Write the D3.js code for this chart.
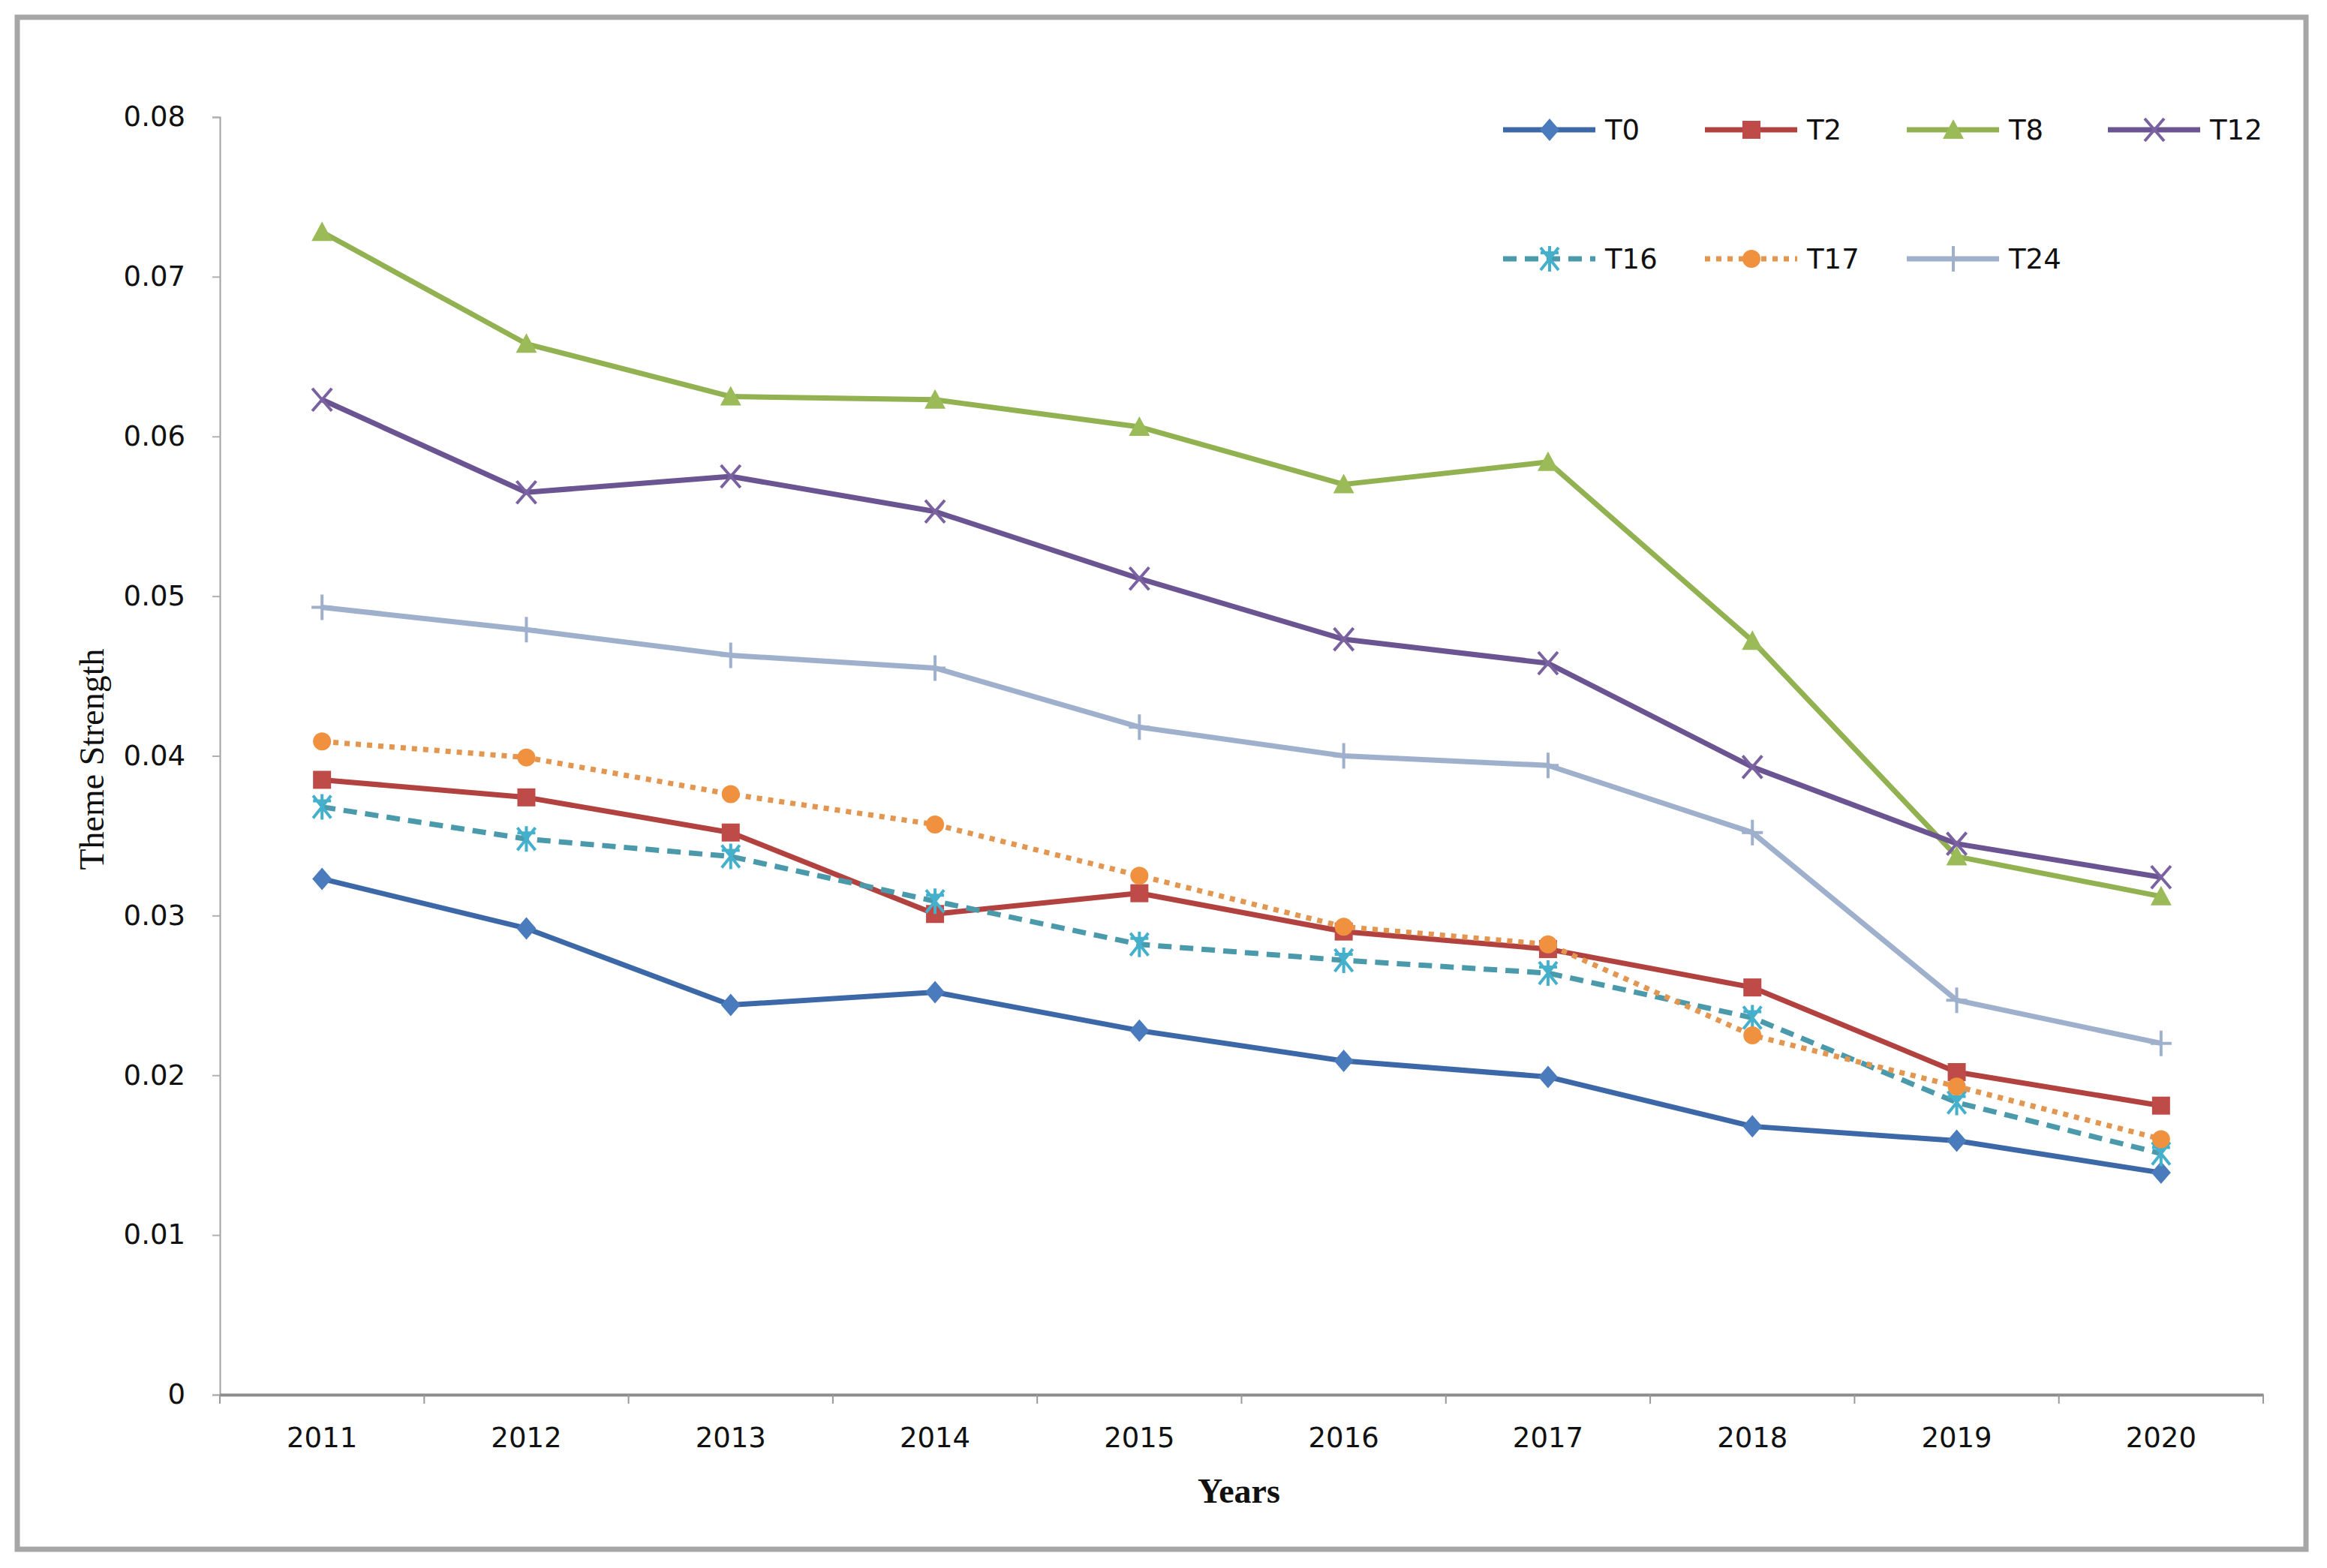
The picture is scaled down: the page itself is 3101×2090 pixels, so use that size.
<!DOCTYPE html>
<html>
<head>
<meta charset="utf-8">
<script src="https://cdnjs.cloudflare.com/ajax/libs/d3/7.8.5/d3.min.js"></script>
<style>
  html, body { margin: 0; padding: 0; background: #fff; }
</style>
</head>
<body>
<div id="viz"></div>
<script>
// data
var years = ['2011', '2012', '2013', '2014', '2015', '2016', '2017', '2018', '2019', '2020'];
var series_names = ['T0', 'T2', 'T8', 'T12', 'T16', 'T17', 'T24'];
var t0  = [0.0323, 0.0292, 0.0244, 0.0252, 0.0228, 0.0209, 0.0199, 0.0168, 0.0159, 0.0139];
var t2  = [0.0385, 0.0374, 0.0352, 0.0301, 0.0314, 0.0290, 0.0279, 0.0255, 0.0202, 0.0181];
var t8  = [0.0728, 0.0658, 0.0625, 0.0623, 0.0606, 0.0570, 0.0584, 0.0472, 0.0337, 0.0312];
var t12 = [0.0623, 0.0565, 0.0575, 0.0553, 0.0511, 0.0473, 0.0458, 0.0393, 0.0345, 0.0324];
var t16 = [0.0368, 0.0348, 0.0337, 0.0309, 0.0282, 0.0272, 0.0264, 0.0236, 0.0183, 0.0151];
var t17 = [0.0409, 0.0399, 0.0376, 0.0357, 0.0325, 0.0293, 0.0282, 0.0225, 0.0193, 0.0160];
var t24 = [0.0493, 0.0479, 0.0463, 0.0455, 0.0418, 0.0400, 0.0394, 0.0352, 0.0247, 0.0220];
var y_ticks = [0, 0.01, 0.02, 0.03, 0.04, 0.05, 0.06, 0.07, 0.08];

var series_values = [t0, t2, t8, t12, t16, t17, t24];

// styles per series
var line_colors   = ['#3d68a8', '#b2423f', '#92b151', '#6a5491', '#4a9aab', '#e39650', '#9fb0cd'];
var marker_colors = ['#4a7bbd', '#be4b48', '#9bbb59', '#7a62a0', '#45b0cc', '#f0913f', '#9fb0cd'];
var dashes = [null, null, null, null, '18,11', '7,8', null];
var shapes = ['diamond', 'square', 'triangle', 'x', 'star', 'circle', 'plus'];

var W = 3101, H = 2090;
var margin = { top: 156, right: 85, bottom: 231, left: 293 };
var width = W - margin.left - margin.right;
var height = H - margin.top - margin.bottom;

var svg = d3.select('#viz').append('svg')
    .attr('width', W)
    .attr('height', H)
    .style('display', 'block');

svg.append('rect')
    .attr('width', W).attr('height', H)
    .attr('fill', '#fff');

// outer frame
svg.append('rect')
    .attr('x', 23).attr('y', 23)
    .attr('width', 3050).attr('height', 2042)
    .attr('fill', 'none')
    .attr('stroke', '#a6a6a6')
    .attr('stroke-width', 7);

var g = svg.append('g')
    .attr('transform', 'translate(' + margin.left + ',' + margin.top + ')');

var x = d3.scaleBand().domain(years).range([0, width]).padding(0);
var y = d3.scaleLinear().domain([0, 0.08]).range([height, 0]);

// y axis
var yAxis = g.append('g')
    .attr('class', 'y-axis')
    .call(d3.axisLeft(y).tickValues(y_ticks).tickSize(10).tickPadding(36)
        .tickFormat(function(d) { return d === 0 ? '0' : d3.format('.2f')(d); }));
yAxis.select('.domain').attr('stroke', '#a0a0a0').attr('stroke-width', 2);
yAxis.selectAll('.tick line').attr('stroke', '#b0b0b0').attr('stroke-width', 2);
yAxis.selectAll('.tick text')
    .style('font-family', '"DejaVu Sans", sans-serif')
    .style('font-size', '37px')
    .attr('fill', '#111');

// x axis, ticks sit between categories
var xAxis = g.append('g')
    .attr('class', 'x-axis')
    .attr('transform', 'translate(0,' + height + ')')
    .call(d3.axisBottom(x).tickSize(0).tickPadding(44));
xAxis.select('.domain').attr('stroke', '#8c8c8c').attr('stroke-width', 4);
xAxis.selectAll('.tick text')
    .style('font-family', '"DejaVu Sans", sans-serif')
    .style('font-size', '37px')
    .attr('fill', '#111');

var bounds = years.map(function(d) { return x(d); }).concat([width]);
xAxis.selectAll('.sep')
    .data(bounds)
    .enter().append('line')
    .attr('class', 'sep')
    .attr('x1', function(d) { return d; })
    .attr('x2', function(d) { return d; })
    .attr('y1', 0).attr('y2', 12)
    .attr('stroke', '#9a9a9a')
    .attr('stroke-width', 2);

// axis titles
svg.append('text')
    .attr('transform', 'translate(138,1012) rotate(-90)')
    .attr('text-anchor', 'middle')
    .style('font-family', '"Liberation Serif", "Times New Roman", serif')
    .style('font-size', '46px')
    .attr('fill', '#111')
    .text('Theme Strength');

svg.append('text')
    .attr('x', 1651).attr('y', 2003)
    .attr('text-anchor', 'middle')
    .style('font-family', '"Liberation Serif", "Times New Roman", serif')
    .style('font-size', '46px')
    .style('font-weight', 'bold')
    .attr('fill', '#111')
    .text('Years');

function marker_path(shape) {
    if (shape === 'diamond') return 'M0,-15L13,0L0,15L-13,0Z';
    if (shape === 'square') return 'M-12,-12H12V12H-12Z';
    if (shape === 'triangle') return 'M0,-14L14,12H-14Z';
    if (shape === 'circle') return 'M-12,0A12,12 0 1,0 12,0A12,12 0 1,0 -12,0Z';
    if (shape === 'x') return 'M-13,-15L13,15M13,-15L-13,15';
    if (shape === 'star') return 'M-12,-15L12,15M12,-15L-12,15M0,-17V17M-12,-8H12';
    if (shape === 'plus') return 'M-14,0H14M0,-17V17';
}
var stroked = { x: true, star: true, plus: true };

function draw_marker(sel, i) {
    var s = shapes[i];
    sel.attr('d', marker_path(s));
    if (stroked[s]) {
        sel.attr('fill', 'none').attr('stroke', marker_colors[i]).attr('stroke-width', 4);
    } else {
        sel.attr('fill', marker_colors[i]).attr('stroke', 'none');
    }
}

var valueline = d3.line()
    .x(function(d, i) { return x(years[i]) + x.bandwidth() / 2; })
    .y(function(d) { return y(d); });

var lines_g = g.append('g').attr('id', 'lines');

series_names.forEach(function(name, i) {
    var vals = series_values[i];
    lines_g.append('path')
        .attr('class', 'line-' + name)
        .attr('d', valueline(vals))
        .attr('fill', 'none')
        .attr('stroke', line_colors[i])
        .attr('stroke-width', 7)
        .attr('stroke-linejoin', 'round')
        .attr('stroke-dasharray', dashes[i]);

    lines_g.append('g')
        .attr('class', 'markers-' + name)
        .selectAll('path')
        .data(vals)
        .enter().append('path')
        .attr('transform', function(d, j) {
            return 'translate(' + (x(years[j]) + x.bandwidth() / 2) + ',' + y(d) + ')';
        })
        .call(draw_marker, i);
});

// legend, two rows of four
var legend = svg.append('g').attr('id', 'legend');
var legend_x = [2003, 2272, 2541, 2809];
var legend_y = [173, 345];

series_names.forEach(function(name, i) {
    var lx = legend_x[i % 4];
    var ly = legend_y[Math.floor(i / 4)];
    var item = legend.append('g')
        .attr('transform', 'translate(' + lx + ',' + ly + ')');
    item.append('line')
        .attr('x1', 0).attr('x2', 123)
        .attr('y1', 0).attr('y2', 0)
        .attr('stroke', line_colors[i])
        .attr('stroke-width', 7)
        .attr('stroke-dasharray', dashes[i]);
    item.append('path')
        .attr('transform', 'translate(62,0)')
        .call(draw_marker, i);
    item.append('text')
        .attr('x', 136).attr('y', 0)
        .attr('dy', '0.36em')
        .style('font-family', '"DejaVu Sans", sans-serif')
        .style('font-size', '37px')
        .attr('fill', '#111')
        .text(name);
});
</script>
</body>
</html>
